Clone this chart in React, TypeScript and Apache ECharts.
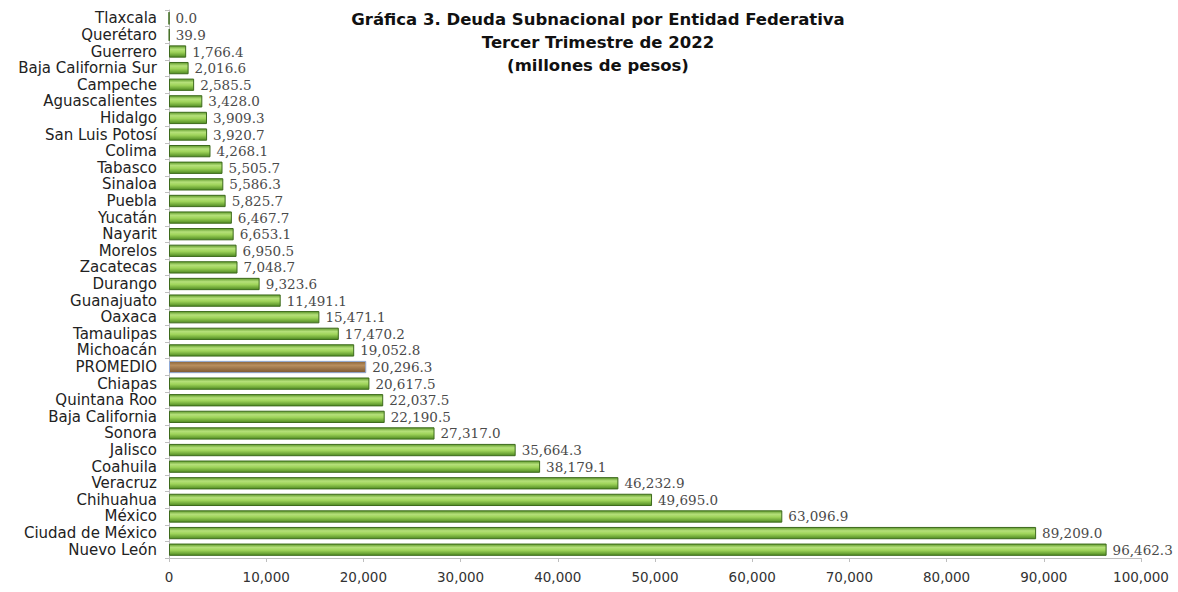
import React, { useEffect, useRef } from "react";
import * as echarts from "echarts";

const categories = [
  "Tlaxcala", "Querétaro", "Guerrero", "Baja California Sur", "Campeche", "Aguascalientes",
  "Hidalgo", "San Luis Potosí", "Colima", "Tabasco", "Sinaloa", "Puebla", "Yucatán", "Nayarit",
  "Morelos", "Zacatecas", "Durango", "Guanajuato", "Oaxaca", "Tamaulipas", "Michoacán",
  "PROMEDIO", "Chiapas", "Quintana Roo", "Baja California", "Sonora", "Jalisco", "Coahuila",
  "Veracruz", "Chihuahua", "México", "Ciudad de México", "Nuevo León",
];

const values = [
  0.0, 39.9, 1766.4, 2016.6, 2585.5, 3428.0, 3909.3, 3920.7, 4268.1, 5505.7, 5586.3, 5825.7,
  6467.7, 6653.1, 6950.5, 7048.7, 9323.6, 11491.1, 15471.1, 17470.2, 19052.8, 20296.3, 20617.5,
  22037.5, 22190.5, 27317.0, 35664.3, 38179.1, 46232.9, 49695.0, 63096.9, 89209.0, 96462.3,
];

const highlight = "PROMEDIO";

const titleLines = [
  "Gráfica 3. Deuda Subnacional por Entidad Federativa",
  "Tercer Trimestre de 2022",
  "(millones de pesos)",
];

const fmt = (v: number) =>
  v.toLocaleString("en-US", { minimumFractionDigits: 1, maximumFractionDigits: 1 });
const fmtAxis = (v: number) => v.toLocaleString("en-US");

export default function App() {
  const ref = useRef<HTMLDivElement>(null);
  useEffect(() => {
    if (!ref.current) return;
    const chart = echarts.init(ref.current, undefined, { renderer: "svg" });
    const green = new echarts.graphic.LinearGradient(0, 0, 0, 1, [
      { offset: 0, color: "#5f9a2c" },
      { offset: 0.3, color: "#b5e07a" },
      { offset: 0.55, color: "#9fd45a" },
      { offset: 1, color: "#4f8a22" },
    ]);
    const brown = new echarts.graphic.LinearGradient(0, 0, 0, 1, [
      { offset: 0, color: "#8a6438" },
      { offset: 0.35, color: "#b88e5e" },
      { offset: 1, color: "#7a5630" },
    ]);
    chart.setOption({
      animation: false,
      title: {
        text: titleLines.join("\n"),
        left: 593,
        top: 3,
        textAlign: "center",
        textStyle: {
          fontFamily: "'DejaVu Sans', sans-serif",
          fontWeight: "bold",
          fontSize: 16.5,
          lineHeight: 23,
          color: "#111",
        },
      },
      grid: { left: 169, right: 37, top: 10, bottom: 34, containLabel: false },
      xAxis: {
        type: "value",
        min: 0,
        max: 100000,
        interval: 10000,
        splitLine: { show: false },
        axisLine: { show: true, lineStyle: { color: "#bfbfbf" } },
        axisTick: { show: true, length: 4, lineStyle: { color: "#bfbfbf" } },
        axisLabel: {
          formatter: (v: number) => fmtAxis(v),
          color: "#333",
          fontSize: 13.5,
          margin: 12,
          fontFamily: "'DejaVu Sans', sans-serif",
        },
      },
      yAxis: {
        type: "category",
        data: categories,
        inverse: true,
        axisLine: { show: true, lineStyle: { color: "#bfbfbf" } },
        axisTick: { show: true, length: 4, lineStyle: { color: "#bfbfbf" } },
        axisLabel: {
          interval: 0,
          color: "#222",
          fontSize: 15,
          margin: 12,
          fontFamily: "'DejaVu Sans', sans-serif",
        },
      },
      series: [
        {
          type: "bar",
          barCategoryGap: "26%",
          data: values.map((v, i) => ({
            value: v,
            itemStyle:
              categories[i] === highlight
                ? { color: brown, borderColor: "#8fa9d6", borderWidth: 1 }
                : { color: green, borderColor: "#3d6a1c", borderWidth: 1 },
          })),
          label: {
            show: true,
            position: "right",
            distance: 6,
            formatter: (p: any) => fmt(p.value),
            color: "#4a4a4a",
            fontSize: 13.5,
            fontFamily: "'DejaVu Serif', 'Liberation Serif', serif",
          },
        },
      ],
    });
    return () => chart.dispose();
  }, []);
  return <div ref={ref} style={{ width: 1178, height: 592, position: "absolute", left: 0, top: 0 }} />;
}
